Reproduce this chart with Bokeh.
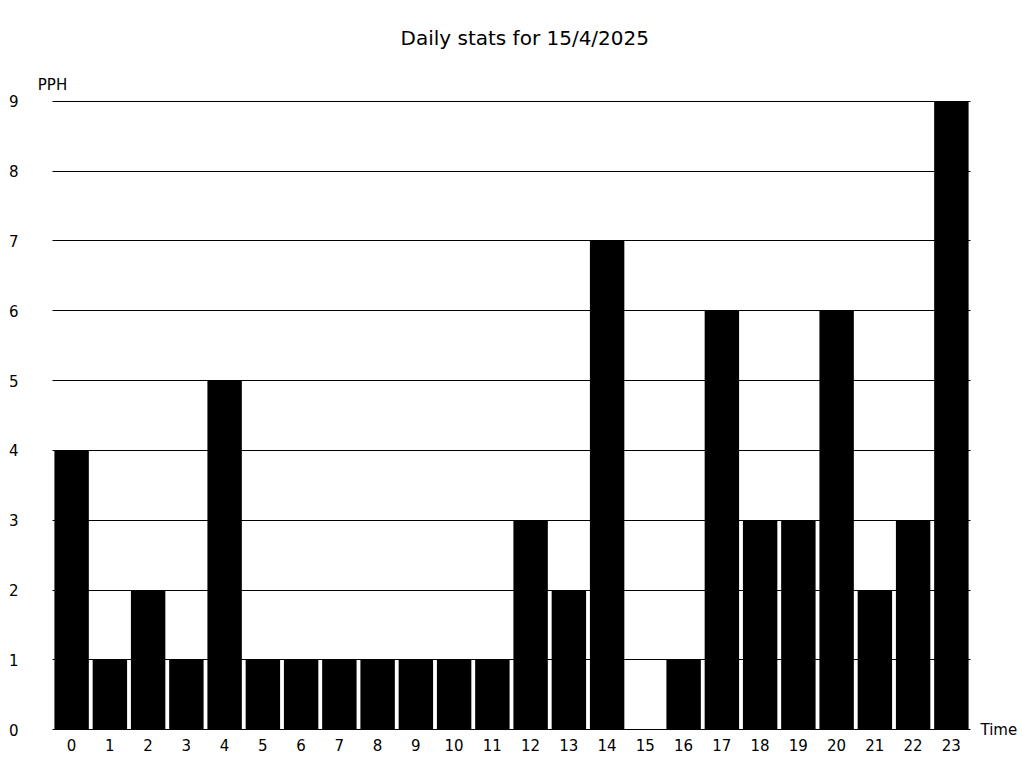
from bokeh.plotting import figure
from bokeh.models import FixedTicker, Range1d, LinearAxis
from bokeh.embed import file_html
from bokeh.resources import INLINE

hours = list(range(24))
pph = [4, 1, 2, 1, 5, 1, 1, 1, 1, 1, 1, 1, 3, 2, 7, 0, 1, 6, 3, 3, 6, 2, 3, 9]
y_ticks = list(range(10))
title_text = "Daily stats for 15/4/2025"
y_label = "PPH"
x_label = "Time"
FONT = "DejaVu Sans"

p = figure(frame_width=918, frame_height=630, output_backend="svg", toolbar_location=None,
           x_range=Range1d(-0.5, 23.5), y_range=Range1d(-0.01, 9.01),
           x_axis_location=None, y_axis_location=None,
           min_border_left=52, min_border_right=46, min_border_bottom=30, min_border_top=100)

p.vbar(x=hours, top=pph, width=0.9, bottom=0, fill_color="black", line_color=None)

p.title.text = title_text
p.title.align = "left"
p.title.offset = 348
p.title.standoff = 45
p.title.text_font = FONT
p.title.text_font_size = "20px"
p.title.text_font_style = "normal"
p.title.text_color = "black"

p.outline_line_color = None
p.xgrid.grid_line_color = None
p.ygrid.grid_line_color = "black"
p.ygrid.grid_line_alpha = 1
p.ygrid.ticker = FixedTicker(ticks=y_ticks)
p.ygrid.level = "overlay"

bottom_ax = LinearAxis(ticker=FixedTicker(ticks=hours))
left_ax = LinearAxis(ticker=FixedTicker(ticks=y_ticks))
# axis-name labels placed as single-tick axes
top_ax = LinearAxis(ticker=FixedTicker(ticks=[-0.5]), major_label_overrides={-0.5: y_label})
right_ax = LinearAxis(ticker=FixedTicker(ticks=[0]), major_label_overrides={0: x_label})
p.add_layout(bottom_ax, "below")
p.add_layout(left_ax, "left")
p.add_layout(top_ax, "above")
p.add_layout(right_ax, "right")

for ax in (bottom_ax, left_ax, top_ax, right_ax):
    ax.axis_line_color = None
    ax.major_tick_line_color = None
    ax.minor_tick_line_color = None
    ax.major_tick_in = 0
    ax.major_tick_out = 0
    ax.minor_tick_in = 0
    ax.minor_tick_out = 0
    ax.major_label_text_font = FONT
    ax.major_label_text_font_size = "15px"
    ax.major_label_text_color = "black"
bottom_ax.major_label_standoff = 8
left_ax.major_label_standoff = 34
top_ax.major_label_standoff = 7
right_ax.major_label_standoff = 10

open("out.html", "w").write(file_html(p, INLINE))
